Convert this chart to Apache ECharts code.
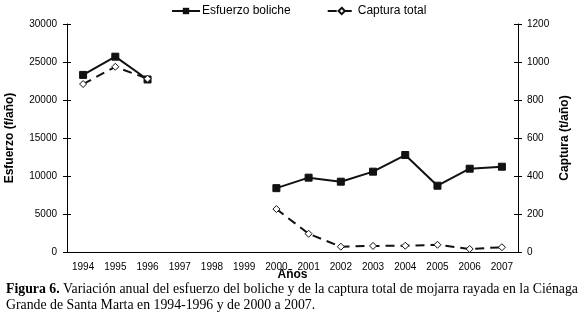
<!DOCTYPE html>
<html><head><meta charset="utf-8">
<script src="https://cdn.jsdelivr.net/npm/echarts@6/dist/echarts.min.js"></script>
<style>html,body{margin:0;padding:0;background:#fff}#c{width:580px;height:318px}</style>
</head><body><div id="c"></div>
<script>
const years = ['1994','1995','1996','1997','1998','1999','2000','2001','2002','2003','2004','2005','2006','2007'];
const esfuerzo = [23300, 25700, 22700, null, null, null, 8400, 9780, 9250, 10570, 12760, 8720, 10960, 11220];
const captura = [884, 975, 912, null, null, null, 226, 96, 28, 32, 33, 38, 16, 25];
const leftTicks = [0, 5000, 10000, 15000, 20000, 25000, 30000];
const rightTicks = [0, 200, 400, 600, 800, 1000, 1200];

const chart = echarts.init(document.getElementById('c'));
const axisFont = {fontFamily: 'Liberation Sans, Arial', fontSize: 10, color: '#000'};
const nameFont = {fontFamily: 'Liberation Sans, Arial', fontSize: 12, fontWeight: 'bold', color: '#000'};
chart.setOption({
  animation: false,
  backgroundColor: '#fff',
  legend: {
    top: 0, left: 166, itemGap: 36, itemWidth: 28, itemHeight: 8,
    textStyle: {fontFamily: 'Liberation Sans, Arial', fontSize: 12, color: '#000', padding: [0, 0, 0, -3]},
    data: ['Esfuerzo boliche', 'Captura total']
  },
  title: {
    left: 1, top: 276,
    text: '{b|Figura 6.} Variación anual del esfuerzo del boliche y de la captura total de mojarra rayada en la Ciénaga\nGrande de Santa Marta en 1994-1996 y de 2000 a 2007.',
    textStyle: {
      fontFamily: 'Liberation Serif, Times New Roman', fontSize: 13.8, fontWeight: 'normal', color: '#000', lineHeight: 16,
      rich: {b: {fontFamily: 'Liberation Serif, Times New Roman', fontSize: 13.8, fontWeight: 'bold', color: '#000', lineHeight: 16}}
    }
  },
  grid: {left: 67, right: 62, top: 24, bottom: 66, containLabel: false, outerBoundsMode: 'none'},
  xAxis: {
    type: 'category', data: years, boundaryGap: true,
    name: 'Años', nameLocation: 'middle', nameGap: 17, nameMoveOverlap: false,
    nameTextStyle: nameFont,
    axisLine: {lineStyle: {color: '#000', width: 1}},
    axisTick: {alignWithLabel: true, length: 4, lineStyle: {color: '#000'}},
    axisLabel: Object.assign({margin: 10, interval: 0}, axisFont)
  },
  yAxis: [{
    type: 'value', min: 0, max: 30000, interval: 5000,
    name: 'Esfuerzo (f/año)', nameLocation: 'middle', nameGap: 51, nameRotate: 90, nameMoveOverlap: false,
    nameTextStyle: nameFont,
    axisLine: {show: true, lineStyle: {color: '#000'}},
    axisTick: {show: true, length: 4, lineStyle: {color: '#000'}},
    splitLine: {show: false},
    axisLabel: Object.assign({margin: 10, formatter: v => leftTicks.includes(v) ? String(v) : ''}, axisFont)
  }, {
    type: 'value', min: 0, max: 1200, interval: 200, position: 'right',
    name: 'Captura (t/año)', nameLocation: 'middle', nameGap: 41, nameRotate: 90, nameMoveOverlap: false,
    nameTextStyle: nameFont,
    axisLine: {show: true, lineStyle: {color: '#000'}},
    axisTick: {show: true, length: 4, lineStyle: {color: '#000'}},
    splitLine: {show: false},
    axisLabel: Object.assign({margin: 9, formatter: v => rightTicks.includes(v) ? String(v) : ''}, axisFont)
  }, {
    type: 'value', min: 0, max: 30000, interval: 5000, position: 'left',
    axisLine: {show: false}, axisLabel: {show: false}, splitLine: {show: false},
    axisTick: {show: true, inside: true, length: 4, lineStyle: {color: '#000'}}
  }, {
    type: 'value', min: 0, max: 1200, interval: 200, position: 'right',
    axisLine: {show: false}, axisLabel: {show: false}, splitLine: {show: false},
    axisTick: {show: true, inside: true, length: 4, lineStyle: {color: '#000'}}
  }],
  series: [{
    name: 'Esfuerzo boliche', type: 'line', yAxisIndex: 0, data: esfuerzo,
    connectNulls: false, symbol: 'rect', symbolSize: 7,
    lineStyle: {color: '#111', width: 2},
    itemStyle: {color: '#111', borderColor: '#111'}
  }, {
    name: 'Captura total', type: 'line', yAxisIndex: 1, data: captura,
    connectNulls: false, symbol: 'diamond', symbolSize: 7,
    lineStyle: {color: '#111', width: 2, type: [9, 6]},
    itemStyle: {color: '#fff', borderColor: '#111', borderWidth: 1}
  }]
});
</script></body></html>
